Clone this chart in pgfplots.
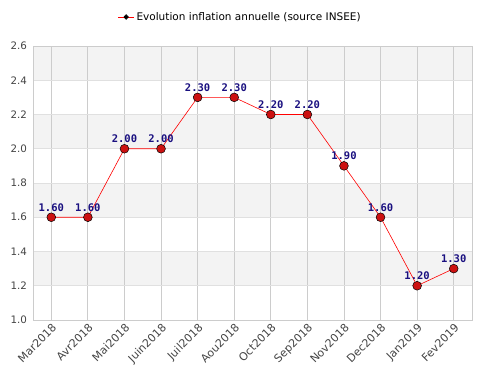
\documentclass[border=0pt]{standalone}
\usepackage{pgfplots}
\pgfplotsset{compat=1.18}
\usepackage{fontspec}
\setmainfont{DejaVu Sans}
\newfontfamily\monob{DejaVu Sans Mono}
\definecolor{bandgray}{HTML}{F3F3F3}
\definecolor{gridv}{HTML}{CCCCCC}
\definecolor{gridh}{HTML}{E0E0E0}
\definecolor{ticktext}{HTML}{444444}
\definecolor{labnavy}{HTML}{1A1080}
\definecolor{markred}{HTML}{CC1111}
\begin{document}
\begin{tikzpicture}
\begin{axis}[
  set layers,
  scale only axis,
  width=439bp, height=274bp,
  xmin=-0.5, xmax=11.5,
  ymin=1.0, ymax=2.6,
  xtick={0,...,11},
  xticklabels={Mar2018,Avr2018,Mai2018,Juin2018,Juil2018,Aou2018,Oct2018,Sep2018,Nov2018,Dec2018,Jan2019,Fev2019},
  ytick={1.0,1.2,1.4,1.6,1.8,2.0,2.2,2.4,2.6},
  yticklabel style={/pgf/number format/fixed,/pgf/number format/fixed zerofill,/pgf/number format/precision=1,
    font=\fontsize{10.3bp}{12bp}\selectfont, xshift=-2.5bp},
  /pgf/number format/assume math mode=true,
  tick label style={text=ticktext},
  xticklabel style={rotate=45, anchor=north east, inner sep=2bp, font=\fontsize{11bp}{12bp}\selectfont},
  major tick length=0pt,
  xmajorgrids, ymajorgrids,
  x grid style={gridv, line width=0.8bp},
  y grid style={gridh, line width=0.8bp},
  axis line style={gridv, line width=0.8bp},
  legend style={at={(0.472,1)}, anchor=center, yshift=29bp, draw=none, fill=none,
    font=\fontsize{10.5bp}{12bp}\selectfont, legend cell align=left},
  legend image code/.code={
    \draw[red, line width=0.8bp] (0bp,0bp) -- (16bp,0bp);
    \fill[black] (8bp,2.4bp) -- (10.2bp,0bp) -- (8bp,-2.4bp) -- (5.8bp,0bp) -- cycle;
  },
]
\addplot[draw=none, fill=bandgray, forget plot, on layer=axis background] coordinates {(-0.5,2.4) (11.5,2.4) (11.5,2.6) (-0.5,2.6)} -- cycle;
\addplot[draw=none, fill=bandgray, forget plot, on layer=axis background] coordinates {(-0.5,2.0) (11.5,2.0) (11.5,2.2) (-0.5,2.2)} -- cycle;
\addplot[draw=none, fill=bandgray, forget plot, on layer=axis background] coordinates {(-0.5,1.6) (11.5,1.6) (11.5,1.8) (-0.5,1.8)} -- cycle;
\addplot[draw=none, fill=bandgray, forget plot, on layer=axis background] coordinates {(-0.5,1.2) (11.5,1.2) (11.5,1.4) (-0.5,1.4)} -- cycle;
\addplot[red, line width=0.6bp, mark=*, mark size=4.4bp,
  mark options={fill=markred, draw=black, line width=0.5bp},
  nodes near coords,
  point meta=explicit symbolic,
  every node near coord/.append style={font=\monob\bfseries\fontsize{10.5bp}{12bp}\selectfont, text=labnavy, anchor=south, inner sep=0pt, yshift=5.5bp},
] coordinates {
 (0,1.6) [1.60] (1,1.6) [1.60] (2,2.0) [2.00] (3,2.0) [2.00] (4,2.3) [2.30] (5,2.3) [2.30]
 (6,2.2) [2.20] (7,2.2) [2.20] (8,1.9) [1.90] (9,1.6) [1.60] (10,1.2) [1.20] (11,1.3) [1.30]
};
\addlegendentry{Evolution inflation annuelle (source INSEE)}
\end{axis}
\pgfresetboundingbox
\useasboundingbox (-33bp,-68bp) rectangle (447bp,320bp);
\end{tikzpicture}
\end{document}
